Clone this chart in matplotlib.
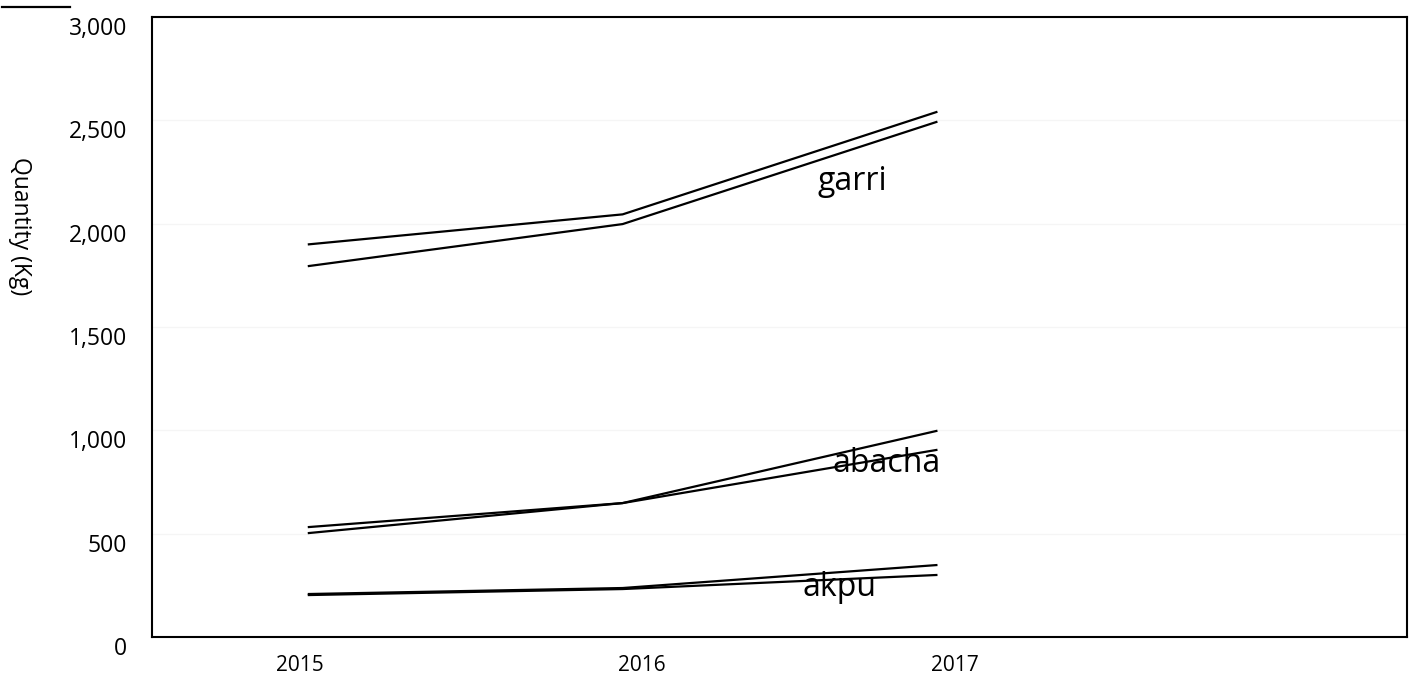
import matplotlib.pyplot as plt
from matplotlib.lines import Line2D
from matplotlib.ticker import FuncFormatter
import matplotlib.transforms as mtransforms

plt.rcParams['font.family'] = ['Open Sans', 'DejaVu Sans']

# yearly quantities (Kg), two recordings per product
years = ['2015', '2016', '2017']
garri_a = [1900, 2045, 2540]
garri_b = [1795, 1998, 2492]
abacha_a = [532, 648, 997]
abacha_b = [503, 648, 905]
akpu_a = [208, 237, 348]
akpu_b = [203, 232, 300]

products = [('garri', garri_a, garri_b, (1.733, 2163)),
            ('abacha', abacha_a, abacha_b, (1.843, 798)),
            ('akpu', akpu_a, akpu_b, (1.692, 198))]

fig = plt.figure(figsize=(14.09, 6.83), dpi=100)
ax = fig.add_axes([152 / 1409, 1 - 637 / 683, (1407 - 152) / 1409, 620 / 683])

x = list(range(len(years)))
for name, a, b, (tx, ty) in products:
    ax.plot(x, a, color='black', lw=1.6, solid_joinstyle='miter')
    ax.plot(x, b, color='black', lw=1.6, solid_joinstyle='miter')
    ax.text(tx, ty, name, fontsize=23, ha='center', va='baseline', color='black')

ax.set_xlim(-0.5, 3.5)
ax.set_ylim(0, 3000)
ax.set_yticks(range(0, 3001, 500))
ax.yaxis.set_major_formatter(FuncFormatter(lambda v, p: f'{int(v):,}'))
ax.set_xticks([-0.03, 1.06, 2.06])
ax.set_xticklabels(years)
ax.tick_params(axis='both', length=0, colors='black')
ax.tick_params(axis='y', pad=18, labelsize=16.5)
ax.tick_params(axis='x', pad=13, labelsize=15)

# nudge the value labels down a little
shift = mtransforms.ScaledTranslation(0, -9 / 100, fig.dpi_scale_trans)
for lbl in ax.get_yticklabels():
    lbl.set_transform(lbl.get_transform() + shift)

ax.grid(axis='y', color='#f5f5f5', lw=1)
ax.set_axisbelow(True)
for sp in ax.spines.values():
    sp.set_color('black')
    sp.set_linewidth(1.5)

fig.text(20 / 1409, 1 - 226 / 683, 'Quantity (Kg)', rotation=270,
         ha='center', va='center', fontsize=16.5)

# short rule in the top-left corner
fig.add_artist(Line2D([2 / 1409, 70 / 1409], [1 - 7 / 683, 1 - 7 / 683],
                      color='black', lw=1.6, transform=fig.transFigure))

fig.savefig('out.png', dpi=100)
